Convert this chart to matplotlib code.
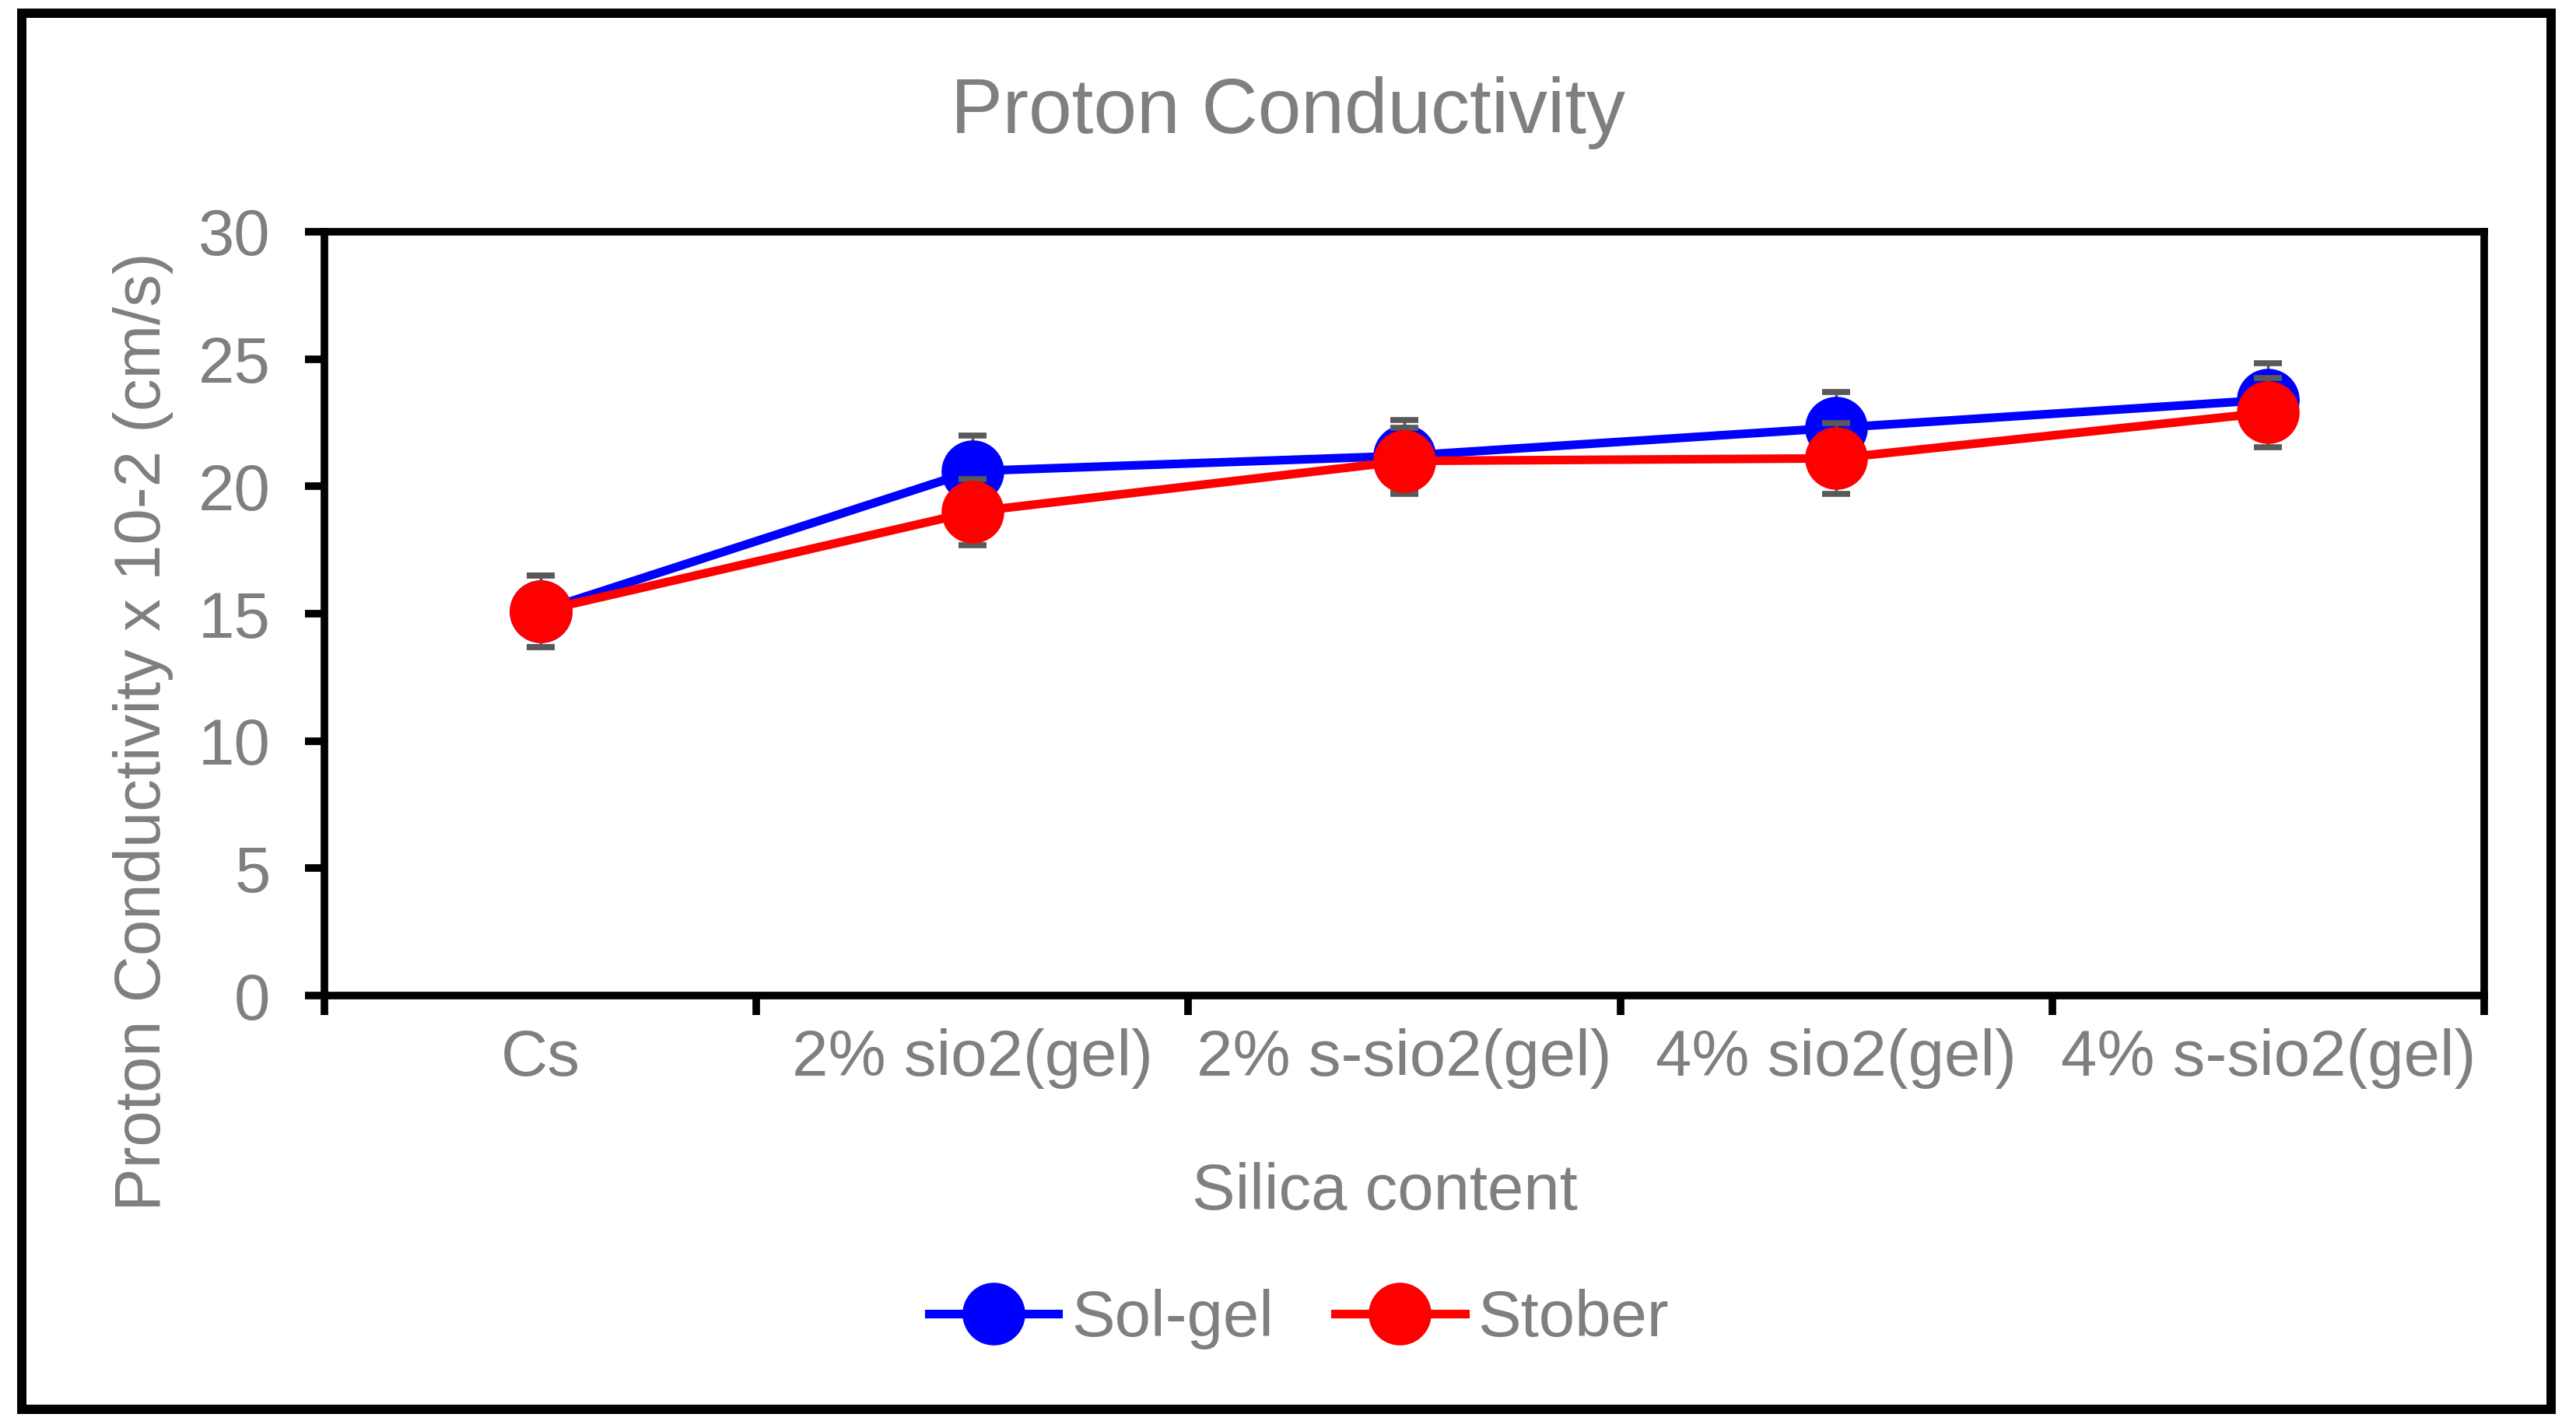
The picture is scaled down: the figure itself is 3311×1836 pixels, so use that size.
import numpy as np
import matplotlib.pyplot as plt
from matplotlib.patches import Rectangle

plt.rcParams['font.family'] = ['Liberation Sans', 'DejaVu Sans']

categories = ["Cs", "2% sio2(gel)", "2% s-sio2(gel)", "4% sio2(gel)", "4% s-sio2(gel)"]
sol_gel = [15.1, 20.6, 21.2, 22.3, 23.4]
sol_gel_err = [1.4, 1.4, 1.4, 1.4, 1.45]
stober = [15.1, 19.0, 21.0, 21.1, 22.9]
stober_err = [1.4, 1.3, 1.3, 1.4, 1.35]

GRAY = '#7f7f7f'
x = np.arange(len(categories))

fig = plt.figure(figsize=(33.12, 18.36), dpi=100)
ax = fig.add_axes([0.1259, 0.3028, 0.9641 - 0.1259, 0.8377 - 0.3028])

for vals, errs, col, name, z in [(sol_gel, sol_gel_err, '#0000ff', 'Sol-gel', 2),
                                  (stober, stober_err, '#ff0000', 'Stober', 4)]:
    ax.errorbar(x, vals, yerr=errs, fmt='none', ecolor='#595959', elinewidth=2.5,
                capsize=13, capthick=5.5, zorder=z)
    ax.plot(x, vals, color=col, lw=8, marker='o', markersize=57, label=name,
            zorder=z + 1)

ax.set_xlim(-0.5, len(categories) - 0.5)
ax.set_ylim(0, 30)
ax.set_yticks(range(0, 31, 5))
ax.set_xticks(np.arange(-0.5, len(categories), 1.0))
ax.set_xticklabels([])
ax.set_xticks(x, minor=True)
ax.set_xticklabels(categories, minor=True)

for s in ax.spines.values():
    s.set_linewidth(7)
ax.tick_params(axis='both', which='major', direction='out', length=18, width=7,
               labelsize=60, labelcolor=GRAY)
ax.tick_params(axis='y', pad=32)
ax.tick_params(axis='x', which='minor', length=0, labelsize=60, labelcolor=GRAY, pad=30)

ax.set_ylabel("Proton Conductivity x 10-2 (cm/s)", fontsize=60, color=GRAY)
ax.yaxis.set_label_coords(-0.070, 0.346)

fig.text(0.5, 0.921, "Proton Conductivity", fontsize=72, color=GRAY,
         ha='center', va='center')
fig.text(0.5375, 0.165, "Silica content", fontsize=60, color=GRAY,
         ha='center', va='center')

leg = fig.legend(loc='center', bbox_to_anchor=(0.504, 0.076), ncol=2, frameon=False,
                 fontsize=60, handlelength=2.0, handletextpad=0.2, columnspacing=0.95)
for t in leg.get_texts():
    t.set_color(GRAY)

fig.patches.append(Rectangle((0.0085, 0.013), 0.990 - 0.0085, 0.9907 - 0.013,
                             transform=fig.transFigure, fill=False, lw=8.6,
                             edgecolor='black'))

fig.savefig("out.png", dpi=100)
